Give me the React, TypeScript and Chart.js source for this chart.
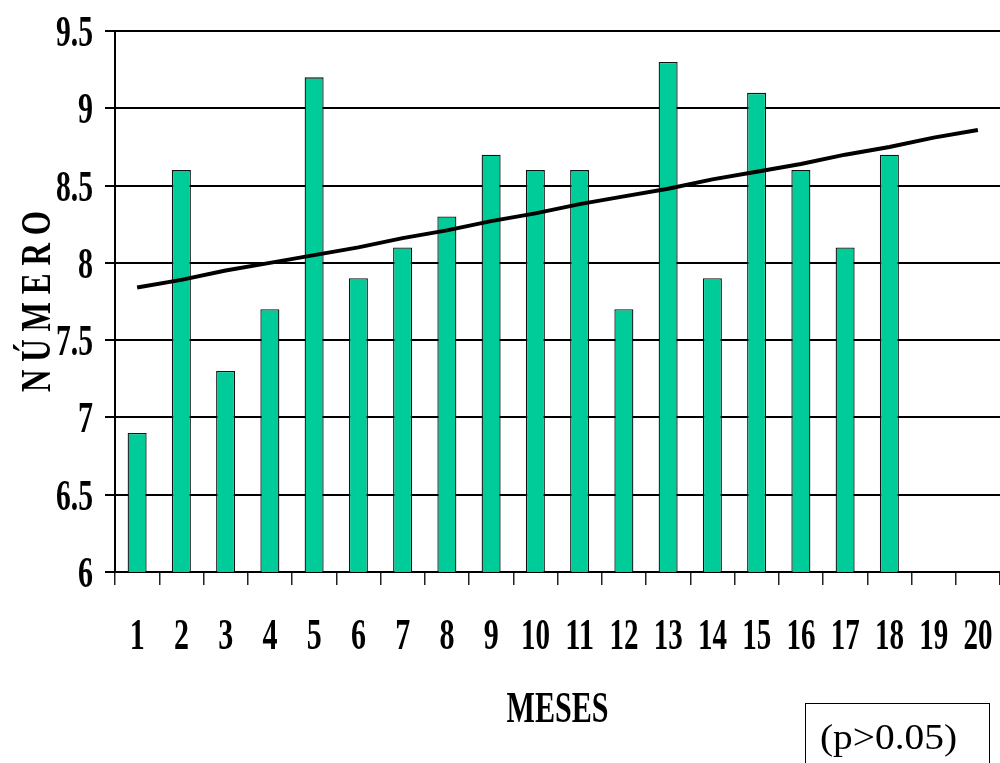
import React, { useEffect, useRef } from "react";
import { Chart, registerables } from "chart.js";

Chart.register(...registerables);

// Months on the x axis (1..20); bars exist for the first 18 months
const months: string[] = ["1", "2", "3", "4", "5", "6", "7", "8", "9", "10", "11", "12", "13", "14", "15", "16", "17", "18", "19", "20"];
const monthlyValues: number[] = [6.9, 8.6, 7.3, 7.7, 9.2, 7.9, 8.1, 8.3, 8.7, 8.6, 8.6, 7.7, 9.3, 7.9, 9.1, 8.6, 8.1, 8.7];
const trendValues: number[] = [7.84, 7.89, 7.95, 8.0, 8.05, 8.1, 8.16, 8.21, 8.27, 8.32, 8.38, 8.43, 8.48, 8.54, 8.59, 8.64, 8.7, 8.75, 8.81, 8.86];
const yTicks: number[] = [6, 6.5, 7, 7.5, 8, 8.5, 9, 9.5];

const SERIF = "'Liberation Serif', 'Times New Roman', serif";

// Draws text squeezed horizontally (along its own direction) to a given width
function drawNarrow(
  ctx: CanvasRenderingContext2D,
  text: string,
  x: number,
  y: number,
  font: string,
  targetWidth: number,
  align: "left" | "center" | "right",
  rotate = 0
) {
  ctx.save();
  ctx.font = font;
  const w = ctx.measureText(text).width;
  const sx = targetWidth / w;
  ctx.translate(x, y);
  if (rotate) ctx.rotate(rotate);
  ctx.scale(sx, 1);
  ctx.textAlign = align;
  ctx.textBaseline = "alphabetic";
  ctx.fillStyle = "#000";
  ctx.fillText(text, 0, 0);
  ctx.restore();
}

const textPlugin = {
  id: "narrowText",
  afterDraw(chart: any) {
    const ctx: CanvasRenderingContext2D = chart.ctx;
    const y = chart.scales.y;
    const x = chart.scales.x;
    const tickFont = `bold 44px ${SERIF}`;

    // y tick labels
    yTicks.forEach((v) => {
      const label = String(v);
      const py = y.getPixelForValue(v);
      const w = label.length === 1 ? 15 : 37;
      drawNarrow(ctx, label, 93, py + 15, tickFont, w, "right");
    });

    // x tick labels
    months.forEach((m, i) => {
      const px = x.getPixelForValue(i);
      const w = m.length === 1 ? 15 : 29;
      drawNarrow(ctx, m, px, 649, tickFont, w, "center");
    });

    // axis titles
    drawNarrow(ctx, "MESES", (chart.chartArea.left + chart.chartArea.right) / 2, 722, `bold 44px ${SERIF}`, 102, "center");
    drawNarrow(ctx, "N Ú M E R O", 50, (chart.chartArea.top + chart.chartArea.bottom) / 2, `bold 42px ${SERIF}`, 181, "center", -Math.PI / 2);

    // significance note
    ctx.save();
    ctx.strokeStyle = "#000";
    ctx.lineWidth = 1;
    ctx.strokeRect(805.5, 703.5, 184, 70);
    ctx.restore();
    drawNarrow(ctx, "(p>0.05)", 820, 749, `35px ${SERIF}`, 137, "left");
  },
};

export default function App() {
  const canvasRef = useRef<HTMLCanvasElement | null>(null);

  useEffect(() => {
    if (!canvasRef.current) return;
    const chart = new Chart(canvasRef.current, {
      type: "bar",
      data: {
        labels: months,
        datasets: [
          {
            type: "line",
            data: trendValues,
            borderColor: "#000",
            borderWidth: 4,
            pointRadius: 0,
            tension: 0,
            fill: false,
            order: 0,
          } as any,
          {
            type: "bar",
            data: monthlyValues,
            backgroundColor: "#00CC99",
            borderColor: "#111",
            borderWidth: 1.3,
            barPercentage: 0.43,
            categoryPercentage: 1,
            order: 1,
          },
        ],
      },
      options: {
        responsive: false,
        animation: false,
        layout: { padding: { top: 31, right: 0, left: 0, bottom: 0 } },
        plugins: {
          legend: { display: false },
          tooltip: { enabled: false },
        },
        scales: {
          x: {
            type: "category",
            offset: true,
            ticks: { display: false },
            grid: {
              offset: true,
              drawOnChartArea: false,
              drawTicks: true,
              tickLength: 13,
              color: "#222",
              lineWidth: 1.5,
            },
            border: { display: true, color: "#000", width: 2 },
            afterFit: (s: any) => {
              s.height = 191;
            },
          },
          y: {
            min: 6,
            max: 9.5,
            ticks: { display: false, stepSize: 0.5 },
            grid: {
              color: "#000",
              lineWidth: 2,
              drawTicks: true,
              tickLength: 10,
            },
            border: { display: true, color: "#000", width: 2 },
            afterFit: (s: any) => {
              s.width = 115;
            },
          },
        },
      },
      plugins: [textPlugin],
    });
    return () => chart.destroy();
  }, []);

  return (
    <div style={{ position: "absolute", left: 0, top: 0, width: 1000, height: 763, background: "#fff" }}>
      <canvas ref={canvasRef} width={1000} height={763} style={{ display: "block" }} />
    </div>
  );
}
